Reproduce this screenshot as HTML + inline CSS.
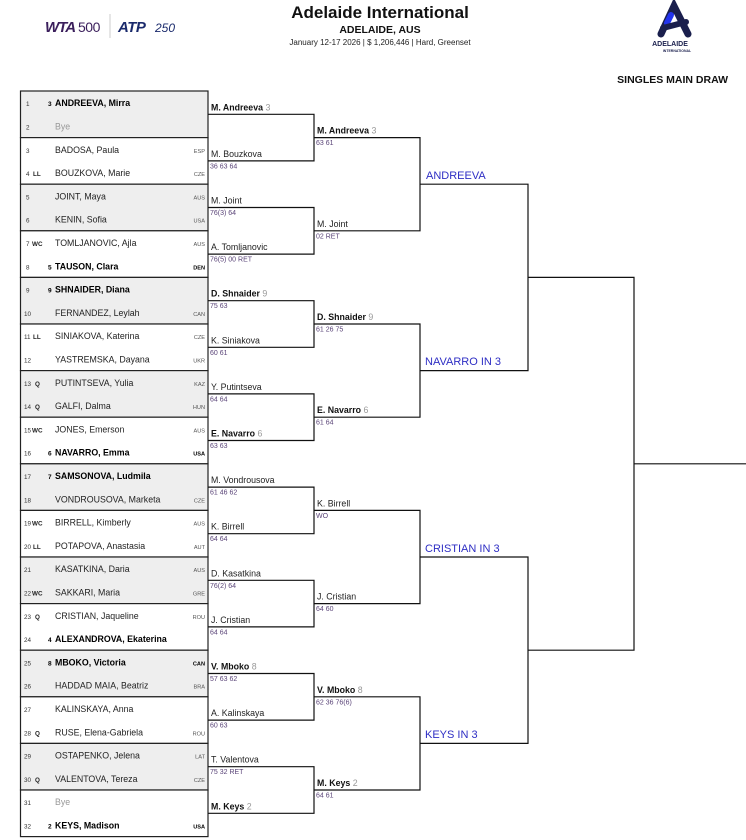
<!DOCTYPE html>
<html><head><meta charset="utf-8"><style>
html,body{margin:0;padding:0;background:#fff;width:746px;height:840px;overflow:hidden}
svg{display:block;font-family:"Liberation Sans",Arial,sans-serif}
.n{font-size:8.8px;fill:#222}
.b{font-weight:bold;fill:#000}
.num{font-size:6.3px;fill:#333}
.ec{font-size:6.3px;font-weight:bold;fill:#222}
.ct{font-size:5.6px;fill:#555;text-anchor:end}
.ctb{font-size:5.6px;fill:#000;font-weight:bold;text-anchor:end}
.bye{font-size:8.8px;fill:#999}
.sdl{font-size:6.5px;font-weight:bold;fill:#000}
.w{font-size:8.8px;fill:#222}
.wb{font-size:8.8px;fill:#111;font-weight:bold}
.sd{fill:#999;font-weight:normal}
.sc{font-size:7px;fill:#5a4478}
.qf{font-size:11px;fill:#2e2ec4}
line,path{stroke:#111;stroke-width:1.2;fill:none}
</style></head><body>
<svg width="746" height="840" viewBox="0 0 746 840" xmlns="http://www.w3.org/2000/svg">
<text x="45" y="32" style="font-size:15px;font-weight:900;font-style:italic;fill:#3b1f5c;letter-spacing:-1px">WTA</text>
<text x="78" y="32" style="font-size:14px;fill:#3b1f5c;letter-spacing:-0.5px">500</text>
<line x1="110" y1="14" x2="110" y2="38" style="stroke:#ccc;stroke-width:1"/>
<text x="118" y="32" style="font-size:15px;font-weight:900;font-style:italic;fill:#1a2a6c;letter-spacing:-0.5px">ATP</text>
<text x="155" y="32" style="font-size:12px;font-style:italic;fill:#1a2a6c">250</text>
<text x="380" y="18" text-anchor="middle" style="font-size:17px;font-weight:bold;fill:#111">Adelaide International</text>
<text x="380" y="33" text-anchor="middle" style="font-size:10.5px;font-weight:bold;fill:#111">ADELAIDE, AUS</text>
<text x="380" y="45" text-anchor="middle" style="font-size:8px;fill:#222">January 12-17 2026  |  $ 1,206,446  |  Hard, Greenset</text>
<path d="M661 34 L674 6 L688 34" style="stroke:#1a1f4d;stroke-width:7;stroke-linecap:round"/>
<path d="M667 23 L671 15" style="stroke:#2233ee;stroke-width:6;stroke-linecap:round"/>
<path d="M663 28 L686 22" style="stroke:#1a1f4d;stroke-width:6;stroke-linecap:round"/>
<text x="670" y="46" text-anchor="middle" style="font-size:7px;font-weight:bold;fill:#1a1f4d">ADELAIDE</text>
<text x="677" y="52" text-anchor="middle" style="font-size:3.5px;font-weight:bold;fill:#1a1f4d">INTERNATIONAL</text>
<text x="728" y="83" text-anchor="end" style="font-size:10.5px;font-weight:bold;fill:#111">SINGLES MAIN DRAW</text>

<g style="stroke:#222;stroke-width:1.2">
<rect x="20.5" y="91" width="187.5" height="46.6" fill="#eee"/>
<rect x="20.5" y="137.6" width="187.5" height="46.6" fill="#fff"/>
<rect x="20.5" y="184.2" width="187.5" height="46.6" fill="#eee"/>
<rect x="20.5" y="230.8" width="187.5" height="46.6" fill="#fff"/>
<rect x="20.5" y="277.4" width="187.5" height="46.6" fill="#eee"/>
<rect x="20.5" y="324" width="187.5" height="46.6" fill="#fff"/>
<rect x="20.5" y="370.6" width="187.5" height="46.6" fill="#eee"/>
<rect x="20.5" y="417.2" width="187.5" height="46.6" fill="#fff"/>
<rect x="20.5" y="463.8" width="187.5" height="46.6" fill="#eee"/>
<rect x="20.5" y="510.4" width="187.5" height="46.6" fill="#fff"/>
<rect x="20.5" y="557" width="187.5" height="46.6" fill="#eee"/>
<rect x="20.5" y="603.6" width="187.5" height="46.6" fill="#fff"/>
<rect x="20.5" y="650.2" width="187.5" height="46.6" fill="#eee"/>
<rect x="20.5" y="696.8" width="187.5" height="46.6" fill="#fff"/>
<rect x="20.5" y="743.4" width="187.5" height="46.6" fill="#eee"/>
<rect x="20.5" y="790" width="187.5" height="46.6" fill="#fff"/>
</g>

<g>
<text x="26" y="106.2" class="num">1</text><text x="48" y="106.2" class="sdl">3</text><text x="55" y="106.2" class="n b">ANDREEVA, Mirra</text>
<text x="26" y="129.5" class="num">2</text><text x="55" y="129.5" class="bye">Bye</text>
<text x="26" y="152.8" class="num">3</text><text x="55" y="152.8" class="n">BADOSA, Paula</text><text x="205" y="152.8" class="ct">ESP</text>
<text x="26" y="176.1" class="num">4</text><text x="33" y="176.1" class="ec">LL</text><text x="55" y="176.1" class="n">BOUZKOVA, Marie</text><text x="205" y="176.1" class="ct">CZE</text>
<text x="26" y="199.4" class="num">5</text><text x="55" y="199.4" class="n">JOINT, Maya</text><text x="205" y="199.4" class="ct">AUS</text>
<text x="26" y="222.7" class="num">6</text><text x="55" y="222.7" class="n">KENIN, Sofia</text><text x="205" y="222.7" class="ct">USA</text>
<text x="26" y="246.0" class="num">7</text><text x="32" y="246.0" class="ec">WC</text><text x="55" y="246.0" class="n">TOMLJANOVIC, Ajla</text><text x="205" y="246.0" class="ct">AUS</text>
<text x="26" y="269.3" class="num">8</text><text x="48" y="269.3" class="sdl">5</text><text x="55" y="269.3" class="n b">TAUSON, Clara</text><text x="205" y="269.3" class="ctb">DEN</text>
<text x="26" y="292.6" class="num">9</text><text x="48" y="292.6" class="sdl">9</text><text x="55" y="292.6" class="n b">SHNAIDER, Diana</text>
<text x="24" y="315.9" class="num">10</text><text x="55" y="315.9" class="n">FERNANDEZ, Leylah</text><text x="205" y="315.9" class="ct">CAN</text>
<text x="24" y="339.2" class="num">11</text><text x="33" y="339.2" class="ec">LL</text><text x="55" y="339.2" class="n">SINIAKOVA, Katerina</text><text x="205" y="339.2" class="ct">CZE</text>
<text x="24" y="362.5" class="num">12</text><text x="55" y="362.5" class="n">YASTREMSKA, Dayana</text><text x="205" y="362.5" class="ct">UKR</text>
<text x="24" y="385.8" class="num">13</text><text x="35" y="385.8" class="ec">Q</text><text x="55" y="385.8" class="n">PUTINTSEVA, Yulia</text><text x="205" y="385.8" class="ct">KAZ</text>
<text x="24" y="409.1" class="num">14</text><text x="35" y="409.1" class="ec">Q</text><text x="55" y="409.1" class="n">GALFI, Dalma</text><text x="205" y="409.1" class="ct">HUN</text>
<text x="24" y="432.4" class="num">15</text><text x="32" y="432.4" class="ec">WC</text><text x="55" y="432.4" class="n">JONES, Emerson</text><text x="205" y="432.4" class="ct">AUS</text>
<text x="24" y="455.7" class="num">16</text><text x="48" y="455.7" class="sdl">6</text><text x="55" y="455.7" class="n b">NAVARRO, Emma</text><text x="205" y="455.7" class="ctb">USA</text>
<text x="24" y="479.0" class="num">17</text><text x="48" y="479.0" class="sdl">7</text><text x="55" y="479.0" class="n b">SAMSONOVA, Ludmila</text>
<text x="24" y="502.3" class="num">18</text><text x="55" y="502.3" class="n">VONDROUSOVA, Marketa</text><text x="205" y="502.3" class="ct">CZE</text>
<text x="24" y="525.6" class="num">19</text><text x="32" y="525.6" class="ec">WC</text><text x="55" y="525.6" class="n">BIRRELL, Kimberly</text><text x="205" y="525.6" class="ct">AUS</text>
<text x="24" y="548.9" class="num">20</text><text x="33" y="548.9" class="ec">LL</text><text x="55" y="548.9" class="n">POTAPOVA, Anastasia</text><text x="205" y="548.9" class="ct">AUT</text>
<text x="24" y="572.2" class="num">21</text><text x="55" y="572.2" class="n">KASATKINA, Daria</text><text x="205" y="572.2" class="ct">AUS</text>
<text x="24" y="595.5" class="num">22</text><text x="32" y="595.5" class="ec">WC</text><text x="55" y="595.5" class="n">SAKKARI, Maria</text><text x="205" y="595.5" class="ct">GRE</text>
<text x="24" y="618.8" class="num">23</text><text x="35" y="618.8" class="ec">Q</text><text x="55" y="618.8" class="n">CRISTIAN, Jaqueline</text><text x="205" y="618.8" class="ct">ROU</text>
<text x="24" y="642.1" class="num">24</text><text x="48" y="642.1" class="sdl">4</text><text x="55" y="642.1" class="n b">ALEXANDROVA, Ekaterina</text>
<text x="24" y="665.4" class="num">25</text><text x="48" y="665.4" class="sdl">8</text><text x="55" y="665.4" class="n b">MBOKO, Victoria</text><text x="205" y="665.4" class="ctb">CAN</text>
<text x="24" y="688.7" class="num">26</text><text x="55" y="688.7" class="n">HADDAD MAIA, Beatriz</text><text x="205" y="688.7" class="ct">BRA</text>
<text x="24" y="712.0" class="num">27</text><text x="55" y="712.0" class="n">KALINSKAYA, Anna</text>
<text x="24" y="735.3" class="num">28</text><text x="35" y="735.3" class="ec">Q</text><text x="55" y="735.3" class="n">RUSE, Elena-Gabriela</text><text x="205" y="735.3" class="ct">ROU</text>
<text x="24" y="758.6" class="num">29</text><text x="55" y="758.6" class="n">OSTAPENKO, Jelena</text><text x="205" y="758.6" class="ct">LAT</text>
<text x="24" y="781.9" class="num">30</text><text x="35" y="781.9" class="ec">Q</text><text x="55" y="781.9" class="n">VALENTOVA, Tereza</text><text x="205" y="781.9" class="ct">CZE</text>
<text x="24" y="805.2" class="num">31</text><text x="55" y="805.2" class="bye">Bye</text>
<text x="24" y="828.5" class="num">32</text><text x="48" y="828.5" class="sdl">2</text><text x="55" y="828.5" class="n b">KEYS, Madison</text><text x="205" y="828.5" class="ctb">USA</text>
</g>

<path d="M208 114.3H314V160.9H208"/>
<path d="M208 207.5H314V254.1H208"/>
<path d="M208 300.7H314V347.3H208"/>
<path d="M208 393.9H314V440.5H208"/>
<path d="M208 487.1H314V533.7H208"/>
<path d="M208 580.3H314V626.9H208"/>
<path d="M208 673.5H314V720.1H208"/>
<path d="M208 766.7H314V813.3H208"/>
<path d="M314 137.6H420V230.8H314"/>
<path d="M314 324H420V417.2H314"/>
<path d="M314 510.4H420V603.6H314"/>
<path d="M314 696.8H420V790H314"/>
<path d="M420 184.2H528V370.6H420"/>
<path d="M420 557H528V743.4H420"/>
<path d="M528 277.4H634V650.2H528"/>
<line x1="634" y1="463.8" x2="746" y2="463.8"/>

<text x="211" y="110.3" class="wb">M. Andreeva <tspan class="sd">3</tspan></text>
<text x="211" y="156.9" class="w">M. Bouzkova</text><text x="210" y="168.4" class="sc">36 63 64</text>
<text x="211" y="203.5" class="w">M. Joint</text><text x="210" y="215" class="sc">76(3) 64</text>
<text x="211" y="250.1" class="w">A. Tomljanovic</text><text x="210" y="261.6" class="sc">76(5) 00 RET</text>
<text x="211" y="296.7" class="wb">D. Shnaider <tspan class="sd">9</tspan></text><text x="210" y="308.2" class="sc">75 63</text>
<text x="211" y="343.3" class="w">K. Siniakova</text><text x="210" y="354.8" class="sc">60 61</text>
<text x="211" y="389.9" class="w">Y. Putintseva</text><text x="210" y="401.4" class="sc">64 64</text>
<text x="211" y="436.5" class="wb">E. Navarro <tspan class="sd">6</tspan></text><text x="210" y="448" class="sc">63 63</text>
<text x="211" y="483.1" class="w">M. Vondrousova</text><text x="210" y="494.6" class="sc">61 46 62</text>
<text x="211" y="529.7" class="w">K. Birrell</text><text x="210" y="541.2" class="sc">64 64</text>
<text x="211" y="576.3" class="w">D. Kasatkina</text><text x="210" y="587.8" class="sc">76(2) 64</text>
<text x="211" y="622.9" class="w">J. Cristian</text><text x="210" y="634.4" class="sc">64 64</text>
<text x="211" y="669.5" class="wb">V. Mboko <tspan class="sd">8</tspan></text><text x="210" y="681" class="sc">57 63 62</text>
<text x="211" y="716.1" class="w">A. Kalinskaya</text><text x="210" y="727.6" class="sc">60 63</text>
<text x="211" y="762.7" class="w">T. Valentova</text><text x="210" y="774.2" class="sc">75 32 RET</text>
<text x="211" y="809.3" class="wb">M. Keys <tspan class="sd">2</tspan></text>

<text x="317" y="133.6" class="wb">M. Andreeva <tspan class="sd">3</tspan></text><text x="316" y="145.1" class="sc">63 61</text>
<text x="317" y="226.8" class="w">M. Joint</text><text x="316" y="238.3" class="sc">02 RET</text>
<text x="317" y="320" class="wb">D. Shnaider <tspan class="sd">9</tspan></text><text x="316" y="331.5" class="sc">61 26 75</text>
<text x="317" y="413.2" class="wb">E. Navarro <tspan class="sd">6</tspan></text><text x="316" y="424.7" class="sc">61 64</text>
<text x="317" y="506.4" class="w">K. Birrell</text><text x="316" y="517.9" class="sc">WO</text>
<text x="317" y="599.6" class="w">J. Cristian</text><text x="316" y="611.1" class="sc">64 60</text>
<text x="317" y="692.8" class="wb">V. Mboko <tspan class="sd">8</tspan></text><text x="316" y="704.3" class="sc">62 36 76(6)</text>
<text x="317" y="786" class="wb">M. Keys <tspan class="sd">2</tspan></text><text x="316" y="797.5" class="sc">64 61</text>

<text x="426" y="179" class="qf">ANDREEVA</text>
<text x="425" y="365" class="qf">NAVARRO IN 3</text>
<text x="425" y="552" class="qf">CRISTIAN IN 3</text>
<text x="425" y="738" class="qf">KEYS IN 3</text>
</svg>
</body></html>
